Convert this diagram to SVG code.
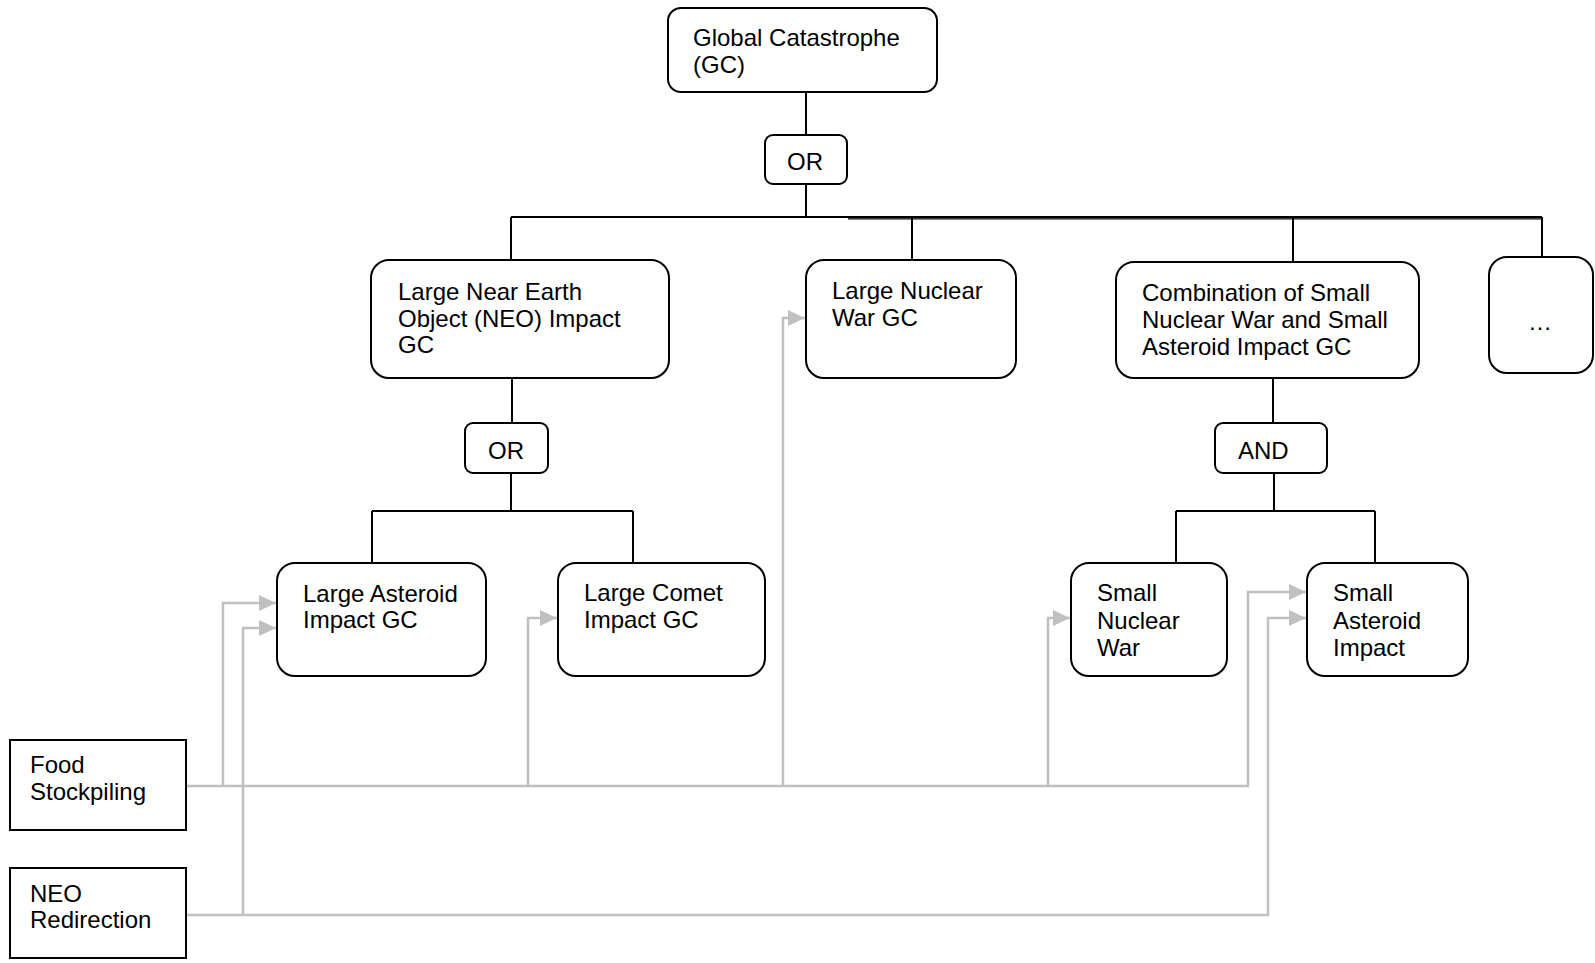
<svg xmlns="http://www.w3.org/2000/svg" width="1595" height="963" viewBox="0 0 1595 963">
<style>
.box{fill:#fff;stroke:#000;stroke-width:2}
.t{font-family:"Liberation Sans",Arial,sans-serif;font-size:24px;fill:#000}
.c{fill:none;stroke:#000;stroke-width:2}
.g{fill:none;stroke:#c0c0c0;stroke-width:2.5}
</style>
<defs>
<marker id="ah" markerUnits="userSpaceOnUse" viewBox="0 0 17 16" markerWidth="17" markerHeight="16" refX="17" refY="8" orient="auto" overflow="visible">
<path d="M0,0 L17,8 L0,16 z" fill="#c0c0c0"/>
</marker>
</defs>
<rect width="1595" height="963" fill="#fff"/>
<g id="connectors">
<path class="c" d="M806,92 V135 M806,184 V217 M511,217 H1542 M511,217 V260 M912,217 V260 M1293,217 V262 M1542,217 V257"/>
<path fill="none" stroke="#000" stroke-width="1.2" d="M848,218.8 H1542"/>
<path class="c" d="M512,378 V423 M511,473 V511 M372,511 H633 M372,511 V563 M633,511 V563"/>
<path class="c" d="M1273,378 V423 M1274,473 V511 M1176,511 H1375 M1176,511 V563 M1375,511 V563"/>
<path class="g" d="M186,786 H1248 V592 H1306" marker-end="url(#ah)"/>
<path class="g" d="M223,786 V603 H276" marker-end="url(#ah)"/>
<path class="g" d="M528,786 V618 H557" marker-end="url(#ah)"/>
<path class="g" d="M783,786 V318 H805" marker-end="url(#ah)"/>
<path class="g" d="M1048,786 V618 H1070" marker-end="url(#ah)"/>
<path class="g" d="M186,915 H1268 V618 H1306" marker-end="url(#ah)"/>
<path class="g" d="M243,915 V628 H276" marker-end="url(#ah)"/>
</g>
<g id="gc">
<rect class="box" x="668" y="8" width="269" height="84" rx="13"/>
<text class="t" x="693" y="46">Global Catastrophe</text>
<text class="t" x="693" y="73">(GC)</text>
</g>
<g id="or-top">
<rect class="box" x="765" y="135" width="82" height="49" rx="8"/>
<text class="t" x="805" y="170" text-anchor="middle">OR</text>
</g>
<g id="large-neo">
<rect class="box" x="371" y="260" width="298" height="118" rx="18"/>
<text class="t" x="398" y="300">Large Near Earth</text>
<text class="t" x="398" y="327">Object (NEO) Impact</text>
<text class="t" x="398" y="353">GC</text>
</g>
<g id="large-nuclear">
<rect class="box" x="806" y="260" width="210" height="118" rx="18"/>
<text class="t" x="832" y="299">Large Nuclear</text>
<text class="t" x="832" y="326">War GC</text>
</g>
<g id="combination">
<rect class="box" x="1116" y="262" width="303" height="116" rx="18"/>
<text class="t" x="1142" y="301">Combination of Small</text>
<text class="t" x="1142" y="328">Nuclear War and Small</text>
<text class="t" x="1142" y="355">Asteroid Impact GC</text>
</g>
<g id="more">
<rect class="box" x="1489" y="257" width="104" height="116" rx="18"/>
<text class="t" x="1540" y="330" text-anchor="middle">…</text>
</g>
<g id="or-mid">
<rect class="box" x="465" y="423" width="83" height="50" rx="8"/>
<text class="t" x="506" y="459" text-anchor="middle">OR</text>
</g>
<g id="and">
<rect class="box" x="1215" y="423" width="112" height="50" rx="8"/>
<text class="t" x="1238" y="459">AND</text>
</g>
<g id="large-asteroid">
<rect class="box" x="277" y="563" width="209" height="113" rx="18"/>
<text class="t" x="303" y="602">Large Asteroid</text>
<text class="t" x="303" y="628">Impact GC</text>
</g>
<g id="large-comet">
<rect class="box" x="558" y="563" width="207" height="113" rx="18"/>
<text class="t" x="584" y="601">Large Comet</text>
<text class="t" x="584" y="628">Impact GC</text>
</g>
<g id="small-nuclear">
<rect class="box" x="1071" y="563" width="156" height="113" rx="18"/>
<text class="t" x="1097" y="601">Small</text>
<text class="t" x="1097" y="628.5">Nuclear</text>
<text class="t" x="1097" y="656">War</text>
</g>
<g id="small-asteroid">
<rect class="box" x="1307" y="563" width="161" height="113" rx="18"/>
<text class="t" x="1333" y="601">Small</text>
<text class="t" x="1333" y="628.5">Asteroid</text>
<text class="t" x="1333" y="656">Impact</text>
</g>
<g id="food">
<rect class="box" x="10" y="740" width="176" height="90"/>
<text class="t" x="30" y="773">Food</text>
<text class="t" x="30" y="800">Stockpiling</text>
</g>
<g id="neo-redirection">
<rect class="box" x="10" y="868" width="176" height="90"/>
<text class="t" x="30" y="902">NEO</text>
<text class="t" x="30" y="928">Redirection</text>
</g>
</svg>
